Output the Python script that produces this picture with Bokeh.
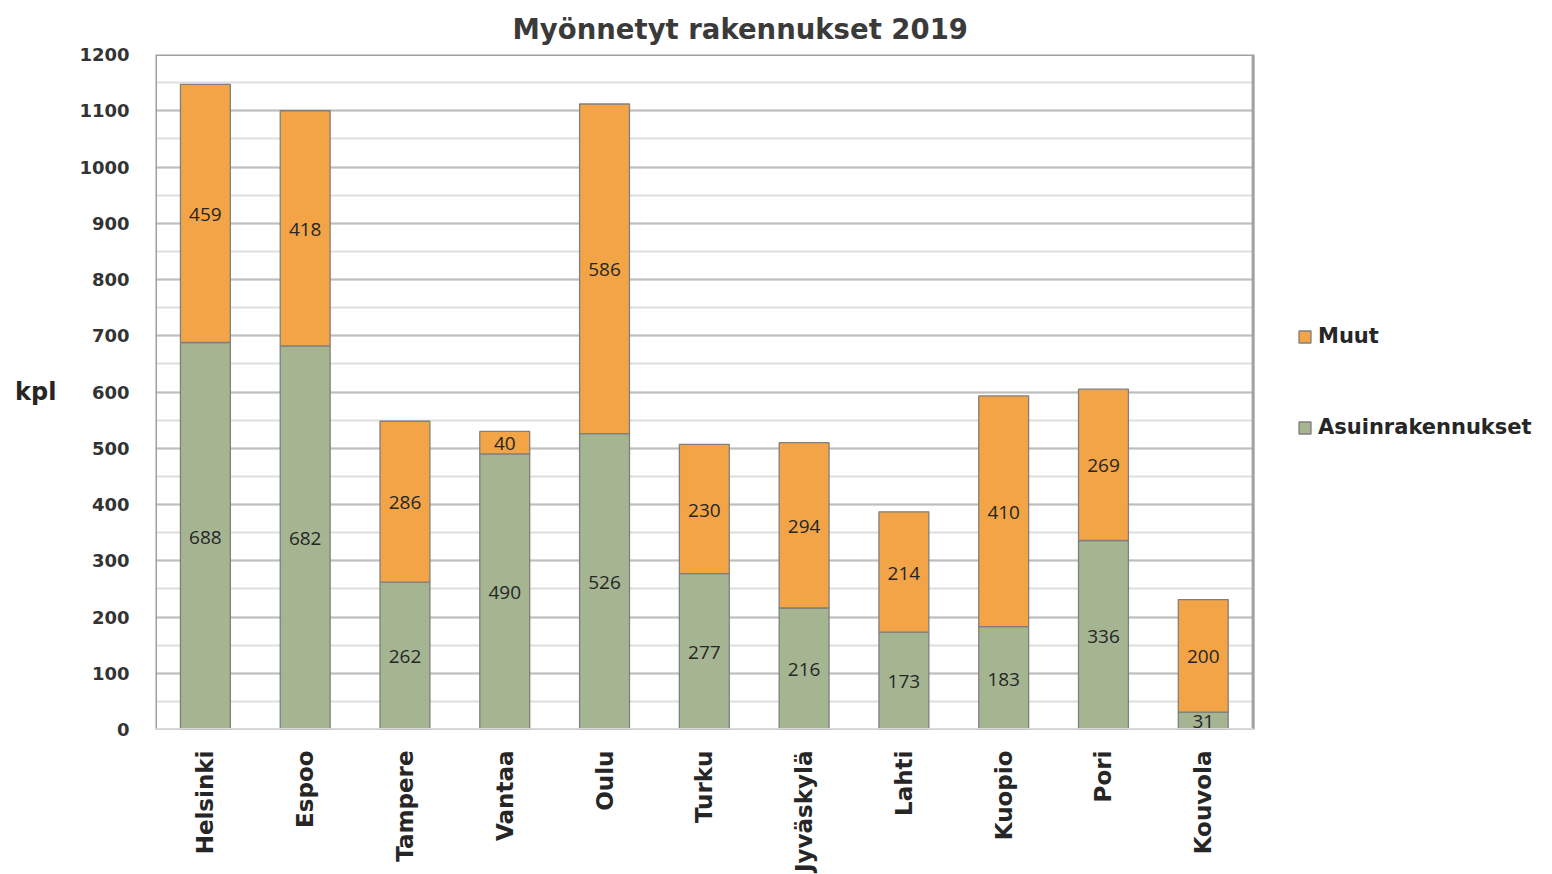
import math
from bokeh.plotting import figure
from bokeh.models import (ColumnDataSource, FactorRange, Range1d, LabelSet,
                          Legend, LegendItem, SingleIntervalTicker, BoxAnnotation)
from bokeh.core.properties import value
from bokeh.embed import file_html
from bokeh.resources import INLINE

cities = ["Helsinki", "Espoo", "Tampere", "Vantaa", "Oulu", "Turku",
          "Jyväskylä", "Lahti", "Kuopio", "Pori", "Kouvola"]
asuin = [688, 682, 262, 490, 526, 277, 216, 173, 183, 336, 31]
muut = [459, 418, 286, 40, 586, 230, 294, 214, 410, 269, 200]

GREEN = "#a5b592"
ORANGE = "#f2a446"
EDGE = "#7f7f7f"

# blank slots to the right hold the legend (kept inside the frame so it is not clipped)
legend_slots = [" ", "  ", "   "]

src = ColumnDataSource(dict(
    city=cities,
    asuin=asuin,
    muut=muut,
    asuin_mid=[a / 2 for a in asuin],
    muut_mid=[a + m / 2 for a, m in zip(asuin, muut)],
    asuin_txt=[str(a) for a in asuin],
    muut_txt=[str(m) for m in muut],
))

p = figure(x_range=FactorRange(*(cities + legend_slots), range_padding=0),
           y_range=Range1d(0, 1200),
           width=1552, height=874,
           output_backend="svg", toolbar_location=None,
           min_border_left=155, min_border_right=0,
           min_border_top=54, min_border_bottom=144)

r = p.vbar_stack(["asuin", "muut"], x="city", width=0.5, source=src,
                 color=[GREEN, ORANGE], line_color=EDGE, line_width=1.3)

lab_font = value("Open Sans")
for col_y, col_t in (("asuin_mid", "asuin_txt"), ("muut_mid", "muut_txt")):
    p.add_layout(LabelSet(x="city", y=col_y, text=col_t, source=src,
                          text_align="center", text_baseline="middle",
                          text_font=lab_font, text_font_size="19px",
                          text_color="#262626", y_offset=-1))

# title
p.title.text = "Myönnetyt rakennukset 2019"
p.title.align = "left"
p.title.offset = 357
p.title.standoff = 20
p.title.text_font = "DejaVu Sans"
p.title.text_font_style = "bold"
p.title.text_font_size = "27.5px"
p.title.text_color = "#3a3a3a"

# axes
p.yaxis.ticker = SingleIntervalTicker(interval=100, num_minor_ticks=2)
p.ygrid.ticker = SingleIntervalTicker(interval=100, num_minor_ticks=2)
p.yaxis.major_label_text_font = "DejaVu Sans"
p.yaxis.major_label_text_font_style = "bold"
p.yaxis.major_label_text_font_size = "18px"
p.yaxis.major_label_text_color = "#333333"
p.yaxis.axis_line_color = None
p.yaxis.major_tick_line_color = None
p.yaxis.minor_tick_line_color = None
p.yaxis.major_label_standoff = 20
p.yaxis.axis_label = "kpl"
p.yaxis.axis_label_text_font = "DejaVu Sans"
p.yaxis.axis_label_text_font_style = "bold"
p.yaxis.axis_label_text_font_size = "24px"
p.yaxis.axis_label_text_color = "#262626"
p.yaxis.axis_label_standoff = 20
yax = p.yaxis[0]
if "axis_label_orientation" in yax.properties():
    yax.axis_label_orientation = "horizontal"

p.xaxis.major_label_orientation = math.pi / 2
p.xaxis.major_label_text_font = "DejaVu Sans"
p.xaxis.major_label_text_font_style = "bold"
p.xaxis.major_label_text_font_size = "23px"
p.xaxis.major_label_text_color = "#262626"
p.xaxis.axis_line_color = None
p.xaxis.major_tick_line_color = None
p.xaxis.minor_tick_line_color = None
p.xaxis.major_label_standoff = 15

p.xgrid.grid_line_color = None
p.ygrid.grid_line_color = "#bfbfbf"
p.ygrid.grid_line_width = 2
p.ygrid.minor_grid_line_color = "#dedede"
p.ygrid.minor_grid_line_width = 2

p.outline_line_color = None

n = len(cities)
# white area to the right of the chart (legend area)
p.add_layout(BoxAnnotation(left=n, fill_color="white", fill_alpha=1.0,
                           line_color=None))
# visible plot-area border
p.add_layout(BoxAnnotation(left=0, right=n, bottom=0, top=1200,
                           fill_alpha=0, line_color="#a0a0a0", line_alpha=1.0,
                           line_width=3))
p.add_layout(BoxAnnotation(left=0, right=n, bottom=0, top=0,
                           fill_alpha=0, line_color="#d9d9d9", line_alpha=1.0,
                           line_width=3))

legend = Legend(items=[LegendItem(label="Muut", renderers=[r[1]]),
                       LegendItem(label="Asuinrakennukset", renderers=[r[0]])],
                location=(1142, 290),
                glyph_width=15, glyph_height=15, spacing=67,
                label_text_font="DejaVu Sans", label_text_font_style="bold",
                label_text_font_size="21px", label_text_color="#262626",
                label_standoff=6, border_line_color=None,
                background_fill_alpha=0, padding=0, margin=0)
p.add_layout(legend, "center")

open("out.html", "w").write(file_html(p, INLINE))
